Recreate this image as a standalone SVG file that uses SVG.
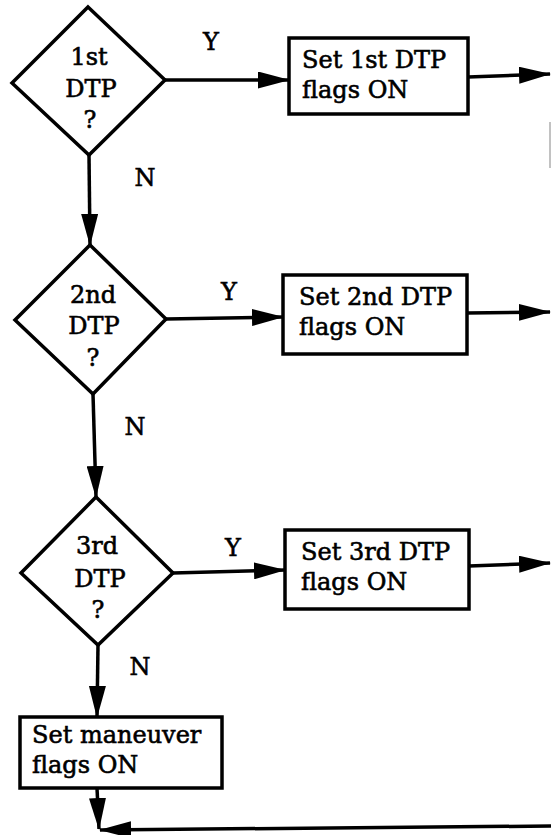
<svg xmlns="http://www.w3.org/2000/svg" width="551" height="835" viewBox="0 0 551 835">
<style>
  .shape { fill: #fff; stroke: #000; stroke-width: 3.5; stroke-linejoin: miter; }
  .edge { fill: none; stroke: #000; stroke-width: 3.5; }
  .faint { fill: none; stroke: #999; stroke-width: 1.2; }
  text { font-family: "DejaVu Serif", "Liberation Serif", serif; font-size: 24px; fill: #000; stroke: #000; stroke-width: 0.6; }
  .c { text-anchor: middle; }
</style>
<defs>
  <marker id="ah" markerUnits="userSpaceOnUse" viewBox="0 0 32 17" refX="31" refY="8.5" markerWidth="32" markerHeight="17" orient="auto">
    <path d="M0,0 L32,8.5 L0,17 z" fill="#000"/>
  </marker>
</defs>
<rect width="551" height="835" fill="#fff"/>

<g id="connectors">
  <line class="edge" x1="165" y1="80" x2="289" y2="80" marker-end="url(#ah)"/>
  <line class="edge" x1="166" y1="319" x2="283" y2="317" marker-end="url(#ah)"/>
  <line class="edge" x1="173" y1="573" x2="285" y2="570" marker-end="url(#ah)"/>
  <line class="edge" x1="468" y1="77" x2="550" y2="74" marker-end="url(#ah)"/>
  <line class="edge" x1="467" y1="313" x2="550" y2="312" marker-end="url(#ah)"/>
  <line class="edge" x1="469" y1="566" x2="550" y2="563" marker-end="url(#ah)"/>
  <line class="edge" x1="89" y1="155" x2="90" y2="245" marker-end="url(#ah)"/>
  <line class="edge" x1="93" y1="394" x2="96" y2="497" marker-end="url(#ah)"/>
  <line class="edge" x1="98" y1="645" x2="97" y2="717" marker-end="url(#ah)"/>
  <line class="edge" x1="97" y1="788" x2="99" y2="829" marker-end="url(#ah)"/>
  <line class="edge" x1="551" y1="826" x2="100" y2="830" marker-end="url(#ah)"/>
  <line class="faint" x1="550" y1="122" x2="550" y2="168"/>
  <text class="c" x="211" y="50">Y</text>
  <text class="c" x="229" y="300">Y</text>
  <text class="c" x="233" y="556">Y</text>
  <text class="c" x="145" y="186">N</text>
  <text class="c" x="135" y="435">N</text>
  <text class="c" x="140" y="675">N</text>
</g>

<g id="dtp1">
  <polygon class="shape" points="88,7 165,80 89,155 12,83"/>
  <text class="c" x="89" y="65">1st</text>
  <text class="c" x="91" y="97">DTP</text>
  <text class="c" x="90" y="128">?</text>
</g>
<g id="set1">
  <rect class="shape" x="289" y="38" width="179" height="76"/>
  <text x="302" y="68">Set 1st DTP</text>
  <text x="302" y="98">flags ON</text>
</g>

<g id="dtp2">
  <polygon class="shape" points="90,245 166,319 93,394 15,320"/>
  <text class="c" x="93" y="303">2nd</text>
  <text class="c" x="94" y="334">DTP</text>
  <text class="c" x="93" y="366">?</text>
</g>
<g id="set2">
  <rect class="shape" x="283" y="275" width="184" height="79"/>
  <text x="299" y="305">Set 2nd DTP</text>
  <text x="299" y="335">flags ON</text>
</g>

<g id="dtp3">
  <polygon class="shape" points="96,497 173,573 98,645 21,573"/>
  <text class="c" x="97" y="554">3rd</text>
  <text class="c" x="100" y="587">DTP</text>
  <text class="c" x="98" y="618">?</text>
</g>
<g id="set3">
  <rect class="shape" x="285" y="530" width="184" height="79"/>
  <text x="301" y="560">Set 3rd DTP</text>
  <text x="301" y="590">flags ON</text>
</g>

<g id="maneuver">
  <rect class="shape" x="20" y="717" width="202" height="71"/>
  <text x="32" y="743">Set maneuver</text>
  <text x="32" y="773">flags ON</text>
</g>
</svg>
